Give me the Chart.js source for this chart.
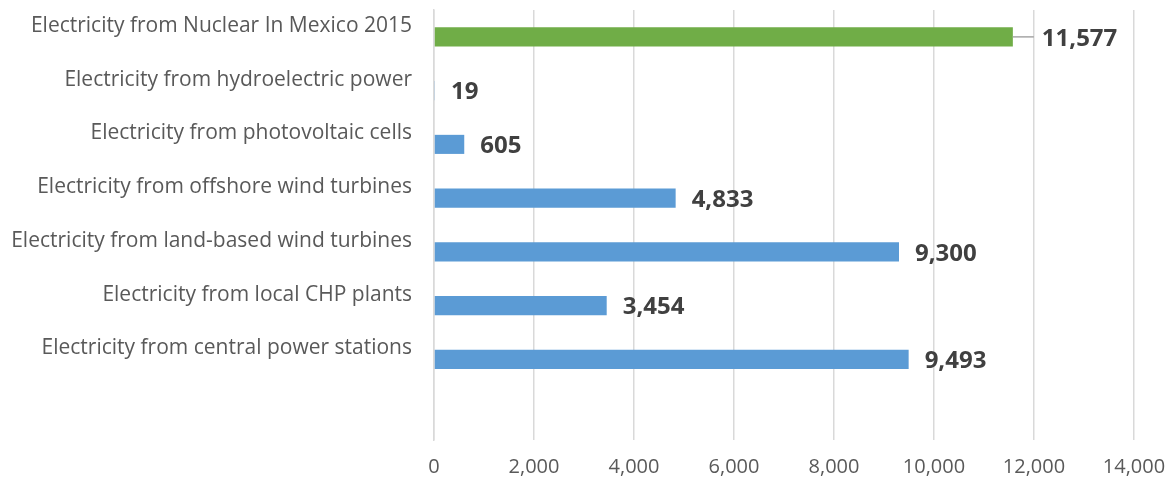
<!DOCTYPE html>
<html>
<head>
<meta charset="utf-8">
<script src="https://cdn.jsdelivr.net/npm/chart.js@4.4.1/dist/chart.umd.min.js"></script>
<style>
  html, body { margin: 0; padding: 0; background: #fff; }
  #wrap { width: 1173px; height: 483px; }
</style>
</head>
<body>
<div id="wrap"><canvas id="energyChart" width="1173" height="483"></canvas></div>
<script>
// categories, top to bottom (last slot is empty in the source chart)
const categories = [
    'Electricity from Nuclear In Mexico 2015',
    'Electricity from hydroelectric power',
    'Electricity from photovoltaic cells',
    'Electricity from offshore wind turbines',
    'Electricity from land-based wind turbines',
    'Electricity from local CHP plants',
    'Electricity from central power stations',
    ''
];
const values = [11577, 19, 605, 4833, 9300, 3454, 9493, null];
const barColors = ['#70AD47', '#5B9BD5', '#5B9BD5', '#5B9BD5', '#5B9BD5', '#5B9BD5', '#5B9BD5', '#5B9BD5'];
const xTicks = [0, 2000, 4000, 6000, 8000, 10000, 12000, 14000];

const fmt = v => v.toLocaleString('en-US');

// draws the bold value labels to the right of each bar
const valueLabels = {
    id: 'valueLabels',
    afterDatasetsDraw(chart, args, opts) {
        const ctx = chart.ctx;
        const meta = chart.getDatasetMeta(0);
        ctx.save();
        ctx.font = 'bold 24px "Open Sans"';
        ctx.fillStyle = '#404040';
        ctx.textBaseline = 'middle';
        ctx.textAlign = 'left';
        meta.data.forEach((bar, i) => {
            const v = values[i];
            if (v === null) return;
            let x = bar.x + opts.gap;
            if (i === opts.leaderIndex) {
                ctx.strokeStyle = '#A6A6A6';
                ctx.lineWidth = 1.5;
                ctx.beginPath();
                ctx.moveTo(bar.x, bar.y);
                ctx.lineTo(bar.x + opts.leaderLength, bar.y);
                ctx.stroke();
                x = bar.x + opts.leaderLength + 8;
            }
            ctx.fillText(fmt(v), x, bar.y + 2);
        });
        ctx.restore();
    }
};

new Chart('energyChart', {
    type: 'bar',
    data: {
        labels: categories,
        datasets: [{
            data: values,
            backgroundColor: barColors,
            categoryPercentage: 1,
            barPercentage: 0.355
        }]
    },
    options: {
        indexAxis: 'y',
        responsive: false,
        animation: false,
        layout: { padding: { top: 10, right: 39, left: 0, bottom: 0 } },
        plugins: {
            legend: { display: false },
            tooltip: { enabled: false },
            valueLabels: { gap: 16, leaderIndex: 0, leaderLength: 21 }
        },
        scales: {
            x: {
                min: 0,
                max: 14000,
                afterBuildTicks: scale => { scale.ticks = xTicks.map(v => ({ value: v })); },
                grid: { color: '#D9D9D9', lineWidth: 1.5, drawTicks: false },
                border: { display: false },
                ticks: {
                    color: '#595959',
                    font: { family: 'Open Sans', size: 20 },
                    padding: 15,
                    maxRotation: 0,
                    callback: v => fmt(v)
                },
                afterFit: scale => {
                    scale.height = 43;
                    scale.paddingLeft = 0;
                    scale.paddingRight = 0;
                }
            },
            y: {
                grid: { display: false },
                border: { color: '#D9D9D9', width: 1.5 },
                ticks: {
                    color: '#595959',
                    font: { family: 'Open Sans', size: 21 },
                    padding: 14,
                    labelOffset: -11,
                    autoSkip: false
                },
                afterFit: scale => {
                    scale.width = 434;
                    scale.paddingTop = 0;
                    scale.paddingBottom = 0;
                }
            }
        }
    },
    plugins: [valueLabels]
});
</script>
</body>
</html>
